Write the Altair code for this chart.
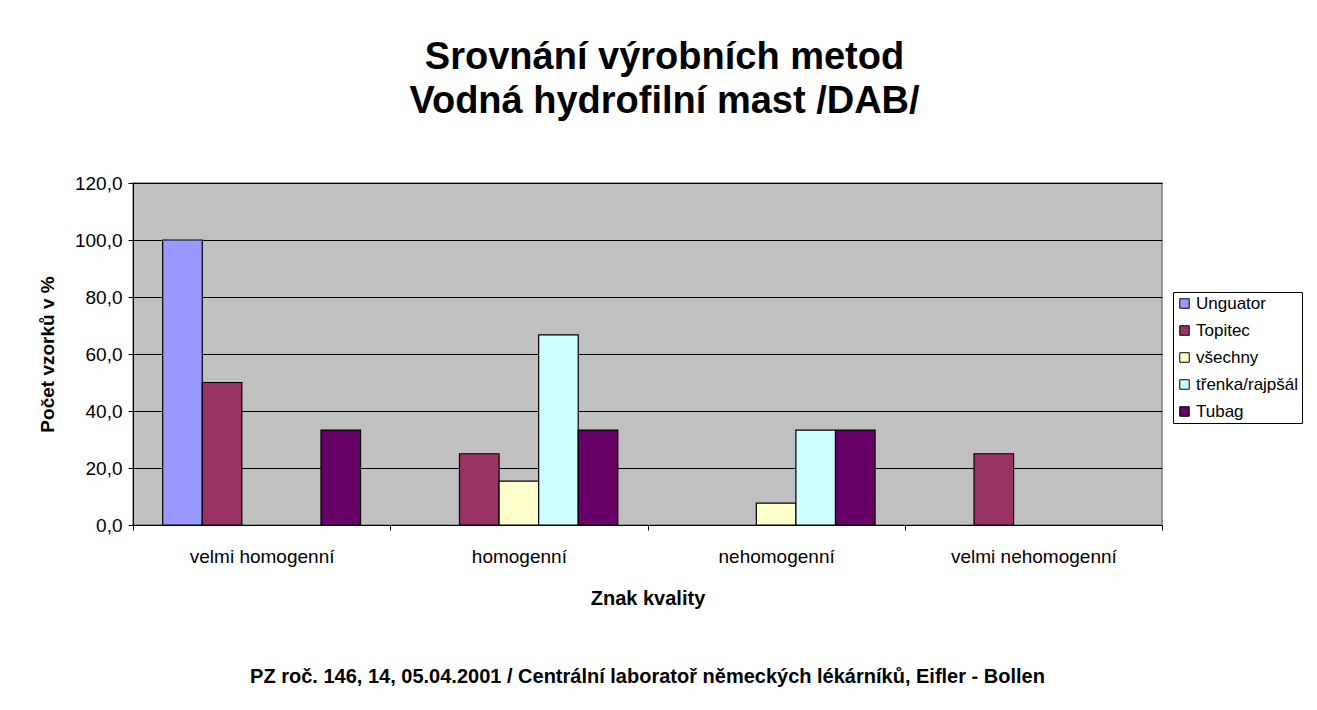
import altair as alt
import pandas as pd

categories = ["velmi homogenní", "homogenní", "nehomogenní", "velmi nehomogenní"]
series = ["Unguator", "Topitec", "všechny", "třenka/rajpšál", "Tubag"]
colors = ["#9999FF", "#993366", "#FFFFCC", "#CCFFFF", "#660066"]

values = {
    "Unguator":       [100.0, 0.0, 0.0, 0.0],
    "Topitec":        [50.0, 25.0, 0.0, 25.0],
    "všechny":        [0.0, 15.4, 7.7, 0.0],
    "třenka/rajpšál": [0.0, 66.7, 33.3, 0.0],
    "Tubag":          [33.3, 33.3, 33.3, 0.0],
}

title_lines = ["Srovnání výrobních metod", "Vodná hydrofilní mast /DAB/"]
x_title = "Znak kvality"
y_title = "Počet vzorků v %"
footnote = "PZ roč. 146, 14, 05.04.2001 / Centrální laboratoř německých lékárníků, Eifler - Bollen"

rows = []
for s in series:
    for c, v in zip(categories, values[s]):
        rows.append({"kategorie": c, "serie": s, "hodnota": v})
df = pd.DataFrame(rows)

FONT = "Liberation Sans"
W, H = 1029, 342

bars = alt.Chart(df).transform_filter("datum.hodnota > 0").mark_bar(
    stroke="black", strokeWidth=1.2
).encode(
    x=alt.X("kategorie:N", sort=categories,
            scale=alt.Scale(domain=categories, paddingInner=0, paddingOuter=0),
            axis=alt.Axis(title=x_title, labelAngle=0, tickBand="extent",
                          domainColor="black", tickColor="black", tickSize=5,
                          labelFont=FONT, labelFontSize=19, labelColor="black",
                          labelPadding=17, titleFont=FONT, titleFontSize=20,
                          titleFontWeight="bold", titleColor="black", titlePadding=22)),
    xOffset=alt.XOffset("serie:N", sort=series,
                        scale=alt.Scale(domain=series, paddingInner=0, paddingOuter=0.75)),
    y=alt.Y("hodnota:Q",
            scale=alt.Scale(domain=[0, 120], nice=False),
            axis=alt.Axis(title=y_title, values=[0, 20, 40, 60, 80, 100, 120],
                          labelExpr="replace(format(datum.value, '.1f'), '.', ',')",
                          grid=True, gridColor="black", gridWidth=1,
                          domainColor="black", tickColor="black", tickSize=5,
                          labelFont=FONT, labelFontSize=19, labelColor="black",
                          labelPadding=6, titleFont=FONT, titleFontSize=19,
                          titleFontWeight="bold", titleColor="black", titlePadding=17)),
    color=alt.Color("serie:N", sort=series,
                    scale=alt.Scale(domain=series, range=colors),
                    legend=alt.Legend(title=None, orient="none", legendX=1040, legendY=109,
                                      symbolType="square", symbolSize=90,
                                      symbolStrokeColor="black", symbolStrokeWidth=1,
                                      symbolOpacity=1, labelOffset=3,
                                      labelFont=FONT, labelFontSize=17, labelColor="black",
                                      rowPadding=9, padding=3, strokeColor="black",
                                      fillColor="white", labelLimit=300)),
)

note = alt.Chart(pd.DataFrame({"t": [footnote]})).mark_text(
    font=FONT, fontSize=20, fontWeight="bold", color="black", align="center", baseline="middle"
).encode(
    x=alt.value(W / 2), y=alt.value(H + 152), text="t:N"
)

chart = alt.layer(bars, note).properties(
    width=W, height=H,
    background="white",
    title=alt.TitleParams(text=title_lines, font=FONT, fontSize=38, fontWeight="bold",
                          color="black", anchor="middle", dx=17, offset=15,
                          baseline="bottom", lineHeight=44),
    autosize=alt.AutoSizeParams(type="none"),
    padding={"left": 125, "top": 175, "right": 146, "bottom": 170},
).configure_view(
    fill="#C0C0C0", stroke="#808080", strokeWidth=1.5
)

chart.save("out.html", embed_options={"renderer": "svg", "actions": False})
